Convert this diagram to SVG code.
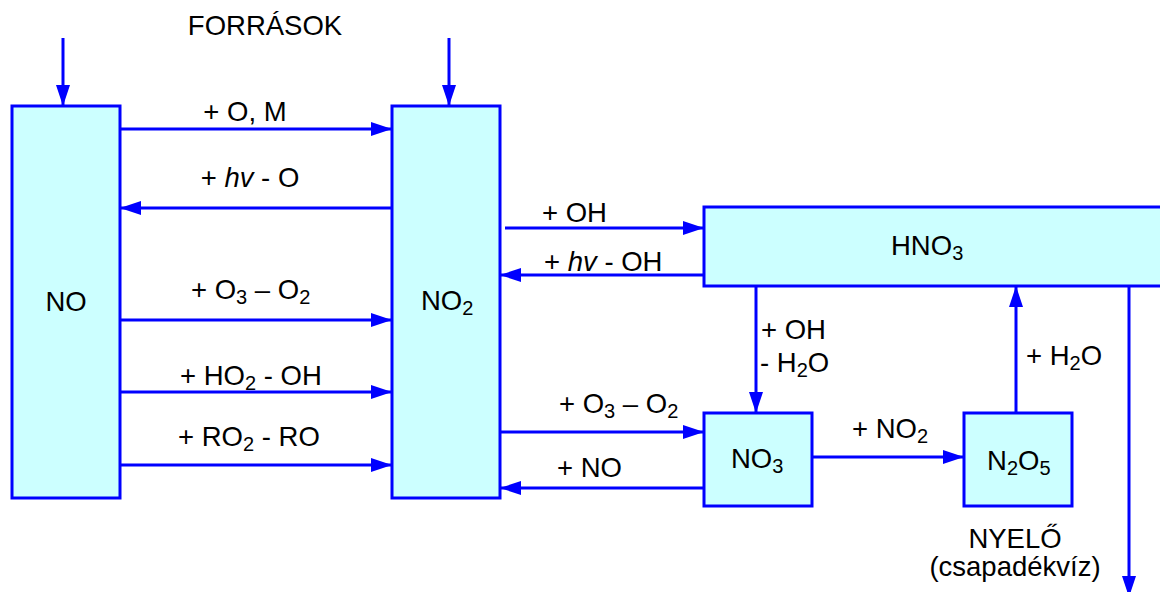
<svg xmlns="http://www.w3.org/2000/svg" width="1160" height="592" viewBox="0 0 1160 592">
<style>
.box{fill:#CCFFFF;stroke:#0000FF;stroke-width:3}
.ln{fill:none;stroke:#0000FF;stroke-width:3;marker-end:url(#ah)}
text{font-family:"Liberation Sans",Arial,sans-serif;font-size:27.5px;fill:#000}
.s{font-size:20px}
.c{text-anchor:middle}
</style>
<defs>
<marker id="ah" markerUnits="userSpaceOnUse" markerWidth="22" markerHeight="16" refX="21" refY="7" orient="auto" viewBox="0 0 22 14">
<path d="M0,0 L21,7 L0,14 z" fill="#0000FF"/>
</marker>
</defs>
<rect width="1160" height="592" fill="#fff"/>
<g id="connectors">
<line class="ln" x1="63" y1="38" x2="63" y2="106"/>
<line class="ln" x1="449" y1="38" x2="449" y2="106"/>
<line class="ln" x1="120" y1="129" x2="392" y2="129"/>
<line class="ln" x1="392" y1="208" x2="120" y2="208"/>
<line class="ln" x1="120" y1="320" x2="392" y2="320"/>
<line class="ln" x1="120" y1="392" x2="392" y2="392"/>
<line class="ln" x1="120" y1="465" x2="392" y2="465"/>
<line class="ln" x1="505" y1="228" x2="704" y2="228"/>
<line class="ln" x1="704" y1="275" x2="500" y2="275"/>
<line class="ln" x1="500" y1="432" x2="704" y2="432"/>
<line class="ln" x1="704" y1="488" x2="500" y2="488"/>
<line class="ln" x1="756" y1="286" x2="756" y2="413"/>
<line class="ln" x1="812" y1="457" x2="964" y2="457"/>
<line class="ln" x1="1016" y1="413" x2="1016" y2="286"/>
<line class="ln" x1="1129" y1="286" x2="1129" y2="597"/>
</g>
<g id="NO"><rect class="box" x="12" y="106" width="108" height="392"/><text class="c" x="66" y="311">NO</text></g>
<g id="NO2"><rect class="box" x="392" y="106" width="108" height="392"/><text x="421" y="310">NO<tspan class="s" dy="5">2</tspan></text></g>
<g id="HNO3"><rect class="box" x="704" y="207" width="458" height="79"/><text x="891" y="255">HNO<tspan class="s" dy="5">3</tspan></text></g>
<g id="NO3"><rect class="box" x="704" y="413" width="108" height="93"/><text x="731" y="468">NO<tspan class="s" dy="5">3</tspan></text></g>
<g id="N2O5"><rect class="box" x="964" y="413" width="108" height="93"/><text x="987" y="470">N<tspan class="s" dy="5">2</tspan><tspan dy="-5">O</tspan><tspan class="s" dy="5">5</tspan></text></g>
<g id="labels">
<text class="c" x="265" y="35">FORRÁSOK</text>
<text class="c" x="245" y="121">+ O, M</text>
<text class="c" x="250" y="187">+ <tspan font-style="italic">hv</tspan> - O</text>
<text x="191" y="299">+ O<tspan class="s" dy="5">3</tspan><tspan dy="-5"> – O</tspan><tspan class="s" dy="5">2</tspan></text>
<text x="180" y="385">+ HO<tspan class="s" dy="5">2</tspan><tspan dy="-5"> - OH</tspan></text>
<text x="178" y="446">+ RO<tspan class="s" dy="5">2</tspan><tspan dy="-5"> - RO</tspan></text>
<text x="542" y="222">+ OH</text>
<text x="544" y="271">+ <tspan font-style="italic">hv</tspan> - OH</text>
<text x="761" y="339">+ OH</text>
<text x="760" y="372">- H<tspan class="s" dy="5">2</tspan><tspan dy="-5">O</tspan></text>
<text x="559" y="413">+ O<tspan class="s" dy="5">3</tspan><tspan dy="-5"> – O</tspan><tspan class="s" dy="5">2</tspan></text>
<text x="557" y="477">+ NO</text>
<text x="852" y="438">+ NO<tspan class="s" dy="5">2</tspan></text>
<text x="1026" y="365">+ H<tspan class="s" dy="5">2</tspan><tspan dy="-5">O</tspan></text>
<text class="c" x="1015" y="548">NYELŐ</text>
<text class="c" x="1015" y="576">(csapadékvíz)</text>
</g>
</svg>
